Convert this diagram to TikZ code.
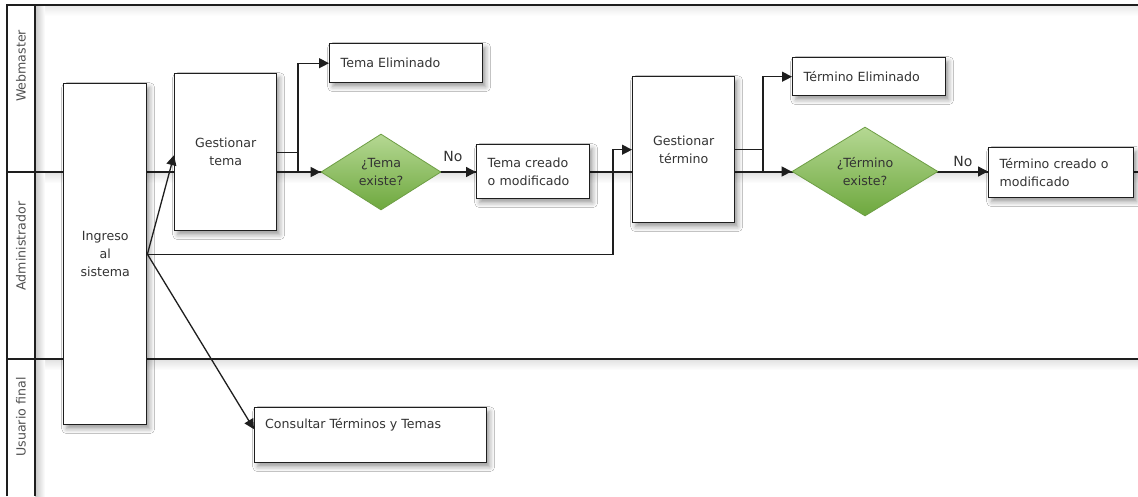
\documentclass[tikz,border=0pt]{standalone}
\usepackage{fontspec}
\setmainfont{DejaVu Sans}
\usetikzlibrary{shapes.geometric,arrows.meta,shadows.blur,calc}
\definecolor{ln}{HTML}{1E1E1E}
\definecolor{tx}{HTML}{333333}
\definecolor{lab}{HTML}{505050}
\definecolor{gtop}{HTML}{B5D893}
\definecolor{gbot}{HTML}{6EA83E}
\definecolor{gdraw}{HTML}{6E9E45}
\newcommand\dgfont{\fontsize{12.6}{18}\selectfont}
\begin{document}
\begin{tikzpicture}[x=1pt,y=-1pt,
  box/.style={draw=ln, line width=1.4pt, fill=white,
    blur shadow={shadow xshift=3pt, shadow yshift=-4pt, shadow opacity=40, shadow blur radius=5pt},
    inner sep=0pt, anchor=north west, font=\dgfont, text=tx},
  lbox/.style={box, align=left, inner xsep=11pt},
  cbox/.style={box, align=center},
  dia/.style={diamond, draw=gdraw, line width=0.8pt, top color=gtop, bottom color=gbot,
    inner sep=0pt, font=\dgfont, text=tx, align=center},
  arr/.style={draw=ln, line width=1.3pt, -{Triangle[length=10pt,width=10pt]}},
  con/.style={draw=ln, line width=1.3pt},
  lane/.style={draw=ln, line width=1.3pt},
  lanelab/.style={rotate=90, font=\dgfont, text=lab, inner sep=0pt},
  nolab/.style={font=\fontsize{14}{16}\selectfont, text=tx, inner sep=0pt}]
\useasboundingbox (0,0) rectangle (1138,496);
\fill[white] (0,0) rectangle (1138,496);
% lane shading
\fill[top color=black!9, bottom color=white] (35,5) rectangle (1138,16);
\fill[top color=black!12, bottom color=white] (35,172) rectangle (1138,183);
\fill[top color=black!12, bottom color=white] (35,359) rectangle (1138,370);
\fill[left color=black!22, right color=white] (35,5) rectangle (45,496);
% lane lines
\draw[lane] (7,496) -- (7,5) -- (1138,5);
\draw[lane] (35,5) -- (35,496);
\draw[lane] (7,172) -- (1138,172);
\draw[lane] (7,359) -- (1138,359);
% lane labels
\node[lanelab] (l1) at (21,66) {Webmaster};
\node[lanelab] (l2) at (21,246) {Administrador};
\node[lanelab] (l3) at (21,417) {Usuario final};
% nodes
\node[cbox, minimum width=83pt, minimum height=341pt] (ing) at (63,83) {Ingreso\\al\\sistema};
\node[cbox, minimum width=102pt, minimum height=157pt] (gt) at (174,73) {Gestionar\\tema};
\node[lbox, text width=131pt, minimum height=39pt] (te) at (329,43) {Tema Eliminado};
\node[dia, minimum width=120pt, minimum height=76pt] (d1) at (381,172) {¿Tema\\existe?};
\node[lbox, text width=91pt, minimum height=54pt] (tc) at (476,144) {Tema creado\\o modificado};
\node[cbox, minimum width=102pt, minimum height=146pt] (gtm) at (632,76) {Gestionar\\término};
\node[lbox, text width=131pt, minimum height=38pt] (tem) at (792,57) {Término Eliminado};
\node[dia, minimum width=146pt, minimum height=89pt] (d2) at (865,171.5) {¿Término\\existe?};
\node[lbox, text width=123pt, minimum height=50pt] (tcm) at (988,147) {Término creado o\\modificado};
\node[box, minimum width=232pt, minimum height=55pt] (cons) at (254,407) {};
\node[font=\dgfont, text=tx, inner sep=0pt, anchor=west] (consT) at ([xshift=11pt,yshift=-18pt]cons.north west) {Consultar Términos y Temas};
% connectors
\draw[arr] (ing.east) -- ([yshift=-3pt]gt.west);
\draw[arr] (ing.east) -| ($(gtm.west)+(-19,0)$) -- (gtm.west);
\draw[arr] (ing.east) -- ([yshift=6pt]cons.west);
\coordinate (j1) at (298,172);
\draw[con] (gt.east) -| (j1);
\draw[arr] (j1) |- (te.west);
\draw[arr] (gt.east |- d1.west) -- (d1.west);
\draw[arr] (d1.east) -- (d1.east -| tc.west);
\node[nolab] (no1) at (453,156) {No};
\coordinate (j2) at (763,172);
\draw[con] (gtm.east) -| (j2);
\draw[arr] (j2) |- (tem.west);
\draw[arr] (gtm.east |- d2.west) -- (d2.west);
\draw[arr] (d2.east) -- (d2.east -| tcm.west);
\node[nolab] (no2) at (963,161) {No};
\end{tikzpicture}
\end{document}
